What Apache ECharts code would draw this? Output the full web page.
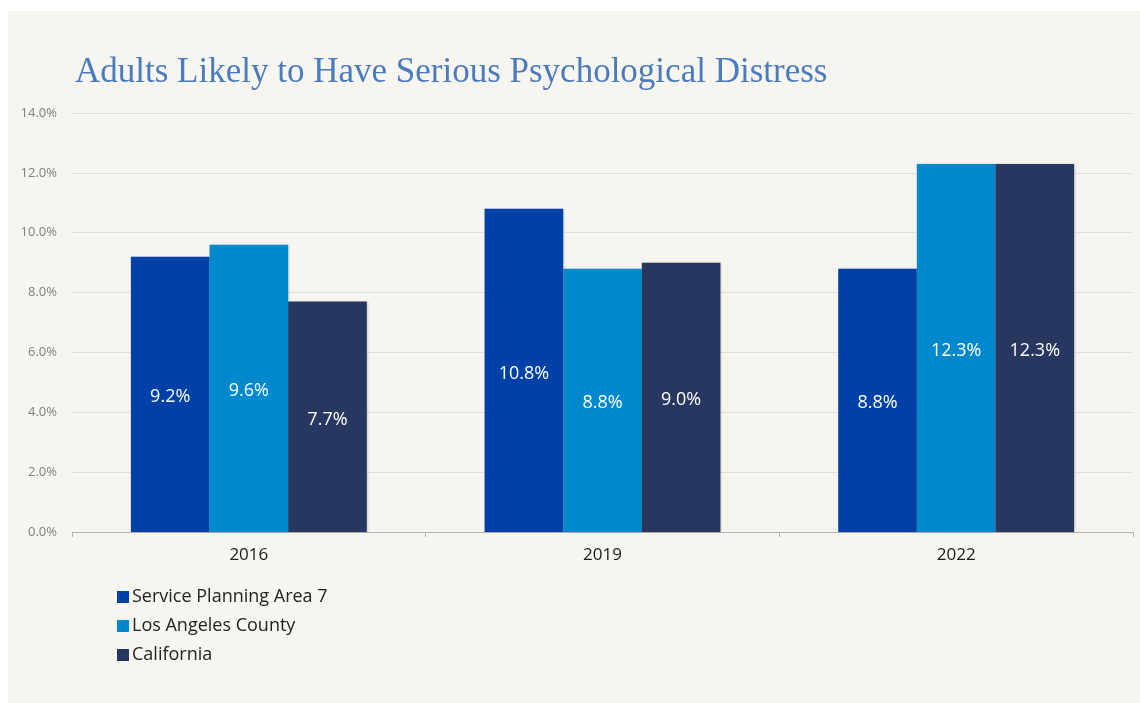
<!DOCTYPE html>
<html>
<head>
<meta charset="utf-8">
<script src="https://cdn.jsdelivr.net/npm/echarts@6/dist/echarts.min.js"></script>
<style>
  html, body { margin: 0; padding: 0; background: #ffffff; }
  #chart { width: 1140px; height: 703px; }
</style>
</head>
<body>
<div id="chart"></div>
<script>
// Survey years on the category axis
const years = ['2016', '2019', '2022'];

// Share of adults likely to have serious psychological distress (%)
const spa7 = [9.2, 10.8, 8.8];
const laCounty = [9.6, 8.8, 12.3];
const california = [7.7, 9.0, 12.3];

const seriesNames = ['Service Planning Area 7', 'Los Angeles County', 'California'];
const seriesColors = ['#0041a8', '#0088cd', '#283760'];

const labelFont = '"Open Sans", "Liberation Sans", sans-serif';

function barSeries(name, values, color) {
  return {
    name: name,
    type: 'bar',
    data: values,
    barGap: '0%',
    barCategoryGap: '33.3%',
    itemStyle: {
      color: color,
      shadowColor: 'rgba(0,0,0,0.18)',
      shadowBlur: 2,
      shadowOffsetX: 1
    },
    label: {
      show: true,
      position: 'inside',
      offset: [0, 3],
      color: '#ffffff',
      fontFamily: labelFont,
      fontSize: 18,
      formatter: p => p.value.toFixed(1) + '%'
    }
  };
}

const chart = echarts.init(document.getElementById('chart'), null, { renderer: 'canvas' });

chart.setOption({
  backgroundColor: '#ffffff',
  animation: false,
  graphic: [{
    type: 'rect',
    z: -10,
    silent: true,
    shape: { x: 8, y: 11, width: 1132, height: 692 },
    style: { fill: '#f6f5ef' }
  }],
  title: {
    text: 'Adults Likely to Have Serious Psychological Distress',
    left: 70,
    top: 50,
    textStyle: {
      fontFamily: '"Liberation Serif", "DejaVu Serif", serif',
      fontWeight: 'normal',
      fontSize: 35,
      color: '#4a7bbd'
    }
  },
  legend: {
    orient: 'vertical',
    left: 112,
    top: 583,
    itemWidth: 12,
    itemHeight: 12,
    itemGap: 11,
    icon: 'rect',
    data: seriesNames,
    textStyle: {
      fontFamily: labelFont,
      fontSize: 18,
      color: '#222222',
      padding: [0, 0, 0, -2]
    }
  },
  grid: {
    left: 72,
    right: 7,
    top: 113,
    bottom: 171,
    containLabel: false
  },
  xAxis: {
    type: 'category',
    data: years,
    axisLine: { lineStyle: { color: '#b3b3b3', width: 1 } },
    axisTick: { show: true, length: 5, lineStyle: { color: '#b3b3b3' } },
    axisLabel: {
      margin: 15,
      fontFamily: labelFont,
      fontSize: 17,
      color: '#1a1a1a'
    }
  },
  yAxis: {
    type: 'value',
    min: 0,
    max: 14,
    interval: 2,
    axisLine: { show: false },
    axisTick: { show: false },
    splitLine: { lineStyle: { color: '#e2dfda', width: 1 } },
    axisLabel: {
      margin: 15,
      fontFamily: labelFont,
      fontSize: 13,
      color: '#808080',
      formatter: v => v.toFixed(1) + '%'
    }
  },
  series: [
    barSeries(seriesNames[0], spa7, seriesColors[0]),
    barSeries(seriesNames[1], laCounty, seriesColors[1]),
    barSeries(seriesNames[2], california, seriesColors[2])
  ]
});
</script>
</body>
</html>
